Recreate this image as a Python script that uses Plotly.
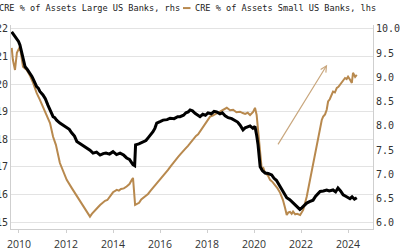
import plotly.graph_objects as go

# Large US banks (rhs) - decimal year, CRE % of assets
large_x = [2009.69, 2009.75, 2009.80, 2009.86, 2009.92, 2009.98, 2010.04, 2010.11, 2010.18, 2010.26,
           2010.36, 2010.47, 2010.55, 2010.62, 2010.75, 2010.82, 2010.89, 2011.02, 2011.12, 2011.23,
           2011.33, 2011.45, 2011.52, 2011.60, 2011.74, 2011.88, 2012.03, 2012.14, 2012.24, 2012.36,
           2012.46, 2012.58, 2012.70, 2012.88, 2013.02, 2013.15, 2013.30, 2013.45, 2013.58, 2013.70,
           2013.85, 2014.00, 2014.15, 2014.30, 2014.45, 2014.58, 2014.70, 2014.77, 2014.85, 2014.92,
           2014.96, 2015.10, 2015.28, 2015.40, 2015.50, 2015.62, 2015.70, 2015.78, 2015.86, 2016.00,
           2016.13, 2016.30, 2016.43, 2016.60, 2016.75, 2016.85, 2017.00, 2017.10, 2017.20, 2017.28,
           2017.38, 2017.49, 2017.60, 2017.70, 2017.82, 2017.93, 2018.04, 2018.18, 2018.30, 2018.41,
           2018.55, 2018.65, 2018.77, 2018.90, 2019.05, 2019.19, 2019.30, 2019.40, 2019.53, 2019.62,
           2019.70, 2019.83, 2019.95, 2020.04, 2020.11, 2020.17, 2020.26, 2020.35, 2020.47, 2020.60,
           2020.75, 2020.85, 2020.95, 2021.11, 2021.25, 2021.39, 2021.52, 2021.66, 2021.78, 2021.87,
           2021.95, 2022.03, 2022.14, 2022.24, 2022.36, 2022.51, 2022.62, 2022.72, 2022.81, 2022.95,
           2023.09, 2023.20, 2023.36, 2023.47, 2023.57, 2023.68, 2023.79, 2023.90, 2024.00, 2024.08,
           2024.17, 2024.27, 2024.37]
large_y = [9.94, 9.90, 9.86, 9.84, 9.79, 9.74, 9.67, 9.53, 9.40, 9.22,
           9.16, 9.09, 9.02, 8.95, 8.81, 8.78, 8.71, 8.64, 8.56, 8.43,
           8.33, 8.19, 8.17, 8.12, 8.06, 8.02, 7.96, 7.93, 7.86, 7.79,
           7.68, 7.64, 7.60, 7.55, 7.50, 7.44, 7.46, 7.40, 7.43, 7.44,
           7.42, 7.47, 7.41, 7.44, 7.40, 7.34, 7.31, 7.26, 7.20, 7.18,
           7.61, 7.63, 7.68, 7.70, 7.76, 7.82, 7.88, 7.95, 8.06, 8.09,
           8.12, 8.13, 8.16, 8.15, 8.19, 8.19, 8.22, 8.27, 8.29, 8.33,
           8.31, 8.26, 8.22, 8.19, 8.24, 8.22, 8.27, 8.25, 8.30, 8.29,
           8.25, 8.27, 8.21, 8.17, 8.15, 8.12, 8.08, 8.02, 7.92, 7.96,
           7.97, 8.00, 7.95, 7.99, 7.81, 7.61, 7.16, 7.08, 7.03, 7.02,
           6.99, 6.92, 6.88, 6.75, 6.64, 6.52, 6.48, 6.41, 6.36, 6.31,
           6.28, 6.31, 6.36, 6.41, 6.44, 6.47, 6.55, 6.60, 6.65, 6.66,
           6.68, 6.66, 6.68, 6.64, 6.72, 6.66, 6.58, 6.55, 6.52, 6.50,
           6.54, 6.49, 6.52]

# Small US banks (lhs)
small_x = [2009.69, 2009.74, 2009.83, 2009.91, 2010.04, 2010.17, 2010.33, 2010.47, 2010.60, 2010.75,
           2010.89, 2011.02, 2011.18, 2011.32, 2011.45, 2011.57, 2011.74, 2011.87, 2012.03, 2012.24,
           2012.43, 2012.60, 2012.77, 2012.95, 2013.02, 2013.10, 2013.19, 2013.32, 2013.45, 2013.56,
           2013.66, 2013.76, 2013.87, 2014.00, 2014.16, 2014.25, 2014.34, 2014.46, 2014.58, 2014.70,
           2014.80, 2014.85, 2014.94, 2015.03, 2015.11, 2015.20, 2015.28, 2015.38, 2015.49, 2015.60,
           2015.70, 2015.80, 2015.91, 2016.02, 2016.13, 2016.24, 2016.34, 2016.45, 2016.55, 2016.66,
           2016.77, 2016.88, 2016.98, 2017.08, 2017.19, 2017.30, 2017.40, 2017.53, 2017.62, 2017.70,
           2017.80, 2017.91, 2018.02, 2018.13, 2018.24, 2018.34, 2018.45, 2018.55, 2018.70, 2018.84,
           2018.98, 2019.11, 2019.25, 2019.40, 2019.52, 2019.62, 2019.73, 2019.83, 2019.96, 2020.04,
           2020.11, 2020.17, 2020.26, 2020.33, 2020.40, 2020.47, 2020.58, 2020.68, 2020.79, 2020.89,
           2021.00, 2021.11, 2021.23, 2021.32, 2021.39, 2021.46, 2021.53, 2021.60, 2021.66, 2021.75,
           2021.83, 2021.96, 2022.09, 2022.24, 2022.34, 2022.46, 2022.55, 2022.67, 2022.77, 2022.88,
           2022.94, 2023.02, 2023.09, 2023.15, 2023.22, 2023.28, 2023.36, 2023.44, 2023.52, 2023.59,
           2023.66, 2023.73, 2023.79, 2023.87, 2023.94, 2024.00, 2024.09, 2024.16, 2024.21, 2024.26,
           2024.30, 2024.37]
small_y = [21.31, 20.88, 20.51, 21.13, 21.35, 20.63, 20.51, 20.30, 20.04, 19.68,
           19.43, 19.18, 18.88, 18.59, 18.09, 17.80, 17.14, 16.89, 16.53, 16.24,
           15.99, 15.80, 15.55, 15.33, 15.20, 15.30, 15.37, 15.50, 15.62, 15.70,
           15.77, 15.80, 15.92, 16.08, 16.17, 16.14, 16.20, 16.22, 16.29, 16.38,
           16.53, 16.60, 15.62, 15.66, 15.70, 15.82, 15.88, 15.95, 16.02, 16.14,
           16.24, 16.33, 16.46, 16.55, 16.65, 16.78, 16.89, 17.02, 17.14, 17.25,
           17.36, 17.47, 17.55, 17.66, 17.76, 17.88, 17.98, 18.12, 18.18, 18.28,
           18.40, 18.52, 18.66, 18.82, 18.86, 18.92, 18.96, 19.00, 19.06, 19.14,
           19.05, 19.07, 18.98, 19.00, 18.95, 18.92, 18.96, 18.88, 18.99, 19.14,
           18.88, 18.34, 17.25, 16.89, 16.95, 16.78, 16.70, 16.53, 16.45, 16.35,
           16.22, 16.06, 15.80, 15.51, 15.26, 15.35, 15.37, 15.30, 15.38, 15.28,
           15.30, 15.26, 15.44, 15.92, 16.35, 16.89, 17.33, 17.74, 18.23, 18.70,
           18.82, 18.90, 19.07, 19.37, 19.45, 19.57, 19.73, 19.70, 19.86, 19.90,
           19.97, 20.05, 20.12, 20.22, 20.18, 20.27, 20.15, 20.04, 20.41, 20.30,
           20.26, 20.33]

year_ticks = [2010, 2012, 2014, 2016, 2018, 2020, 2022, 2024]
year_labels = ["2010", "2012", "2014", "2016", "2018", "2020", "2022", "2024"]
left_ticks = [15, 16, 17, 18, 19, 20, 21, 22]
left_labels = ["15", "16", "17", "18", "19", "20", "21", "22"]
right_ticks = [6.0, 6.5, 7.0, 7.5, 8.0, 8.5, 9.0, 9.5, 10.0]
right_labels = ["6.0", "6.5", "7.0", "7.5", "8.0", "8.5", "9.0", "9.5", "10.0"]

legend_large = "CRE % of Assets Large US Banks, rhs"
legend_small = "CRE % of Assets Small US Banks, lhs"

GOLD = "#b8894e"
ARROW = "#c9a77e"

fig = go.Figure()
fig.add_trace(go.Scatter(x=small_x, y=small_y, mode="lines", name=legend_small,
                         line=dict(color=GOLD, width=2), yaxis="y", showlegend=False))
fig.add_trace(go.Scatter(x=large_x, y=large_y, mode="lines", name=legend_large,
                         line=dict(color="#000000", width=3), yaxis="y2", showlegend=False))

mono = "DejaVu Sans Mono"
fig.update_layout(
    width=400, height=250,
    margin=dict(l=11, r=27, t=25, b=21, pad=0),
    paper_bgcolor="white", plot_bgcolor="white",
    template="none",
    showlegend=False,
    xaxis=dict(range=[2009.66, 2025.06], tickvals=year_ticks, ticktext=year_labels,
               showgrid=False, zeroline=False, showline=True, linecolor="#cfcfcf", linewidth=1,
               ticks="outside", ticklen=3, tickcolor="#cfcfcf", ticklabelstandoff=2,
               tickfont=dict(family="Open Sans", size=10.5, color="#333333"), automargin=False),
    yaxis=dict(range=[14.75, 22.14], tickvals=left_ticks, ticktext=left_labels,
               showgrid=True, gridcolor="#e3e3e3", gridwidth=1, zeroline=False,
               showline=True, linecolor="#cfcfcf", linewidth=1, ticks="",
               tickfont=dict(family=mono, size=10, color="#333333"), automargin=False),
    yaxis2=dict(range=[5.876, 10.08], tickvals=right_ticks, ticktext=right_labels,
                overlaying="y", side="right", showgrid=False, zeroline=False,
                showline=True, linecolor="#cfcfcf", linewidth=1, ticks="",
                tickfont=dict(family=mono, size=10, color="#333333"), automargin=False),
)

# legend imitation
fig.add_annotation(x=(182 - 11) / 362, y=1.083, xref="paper", yref="paper",
                   text=legend_large, showarrow=False, xanchor="right", yanchor="middle",
                   font=dict(family=mono, size=8.6, color="#222222"))
fig.add_annotation(x=(193 - 11) / 362, y=1.083, xref="paper", yref="paper",
                   text=legend_small, showarrow=False, xanchor="left", yanchor="middle",
                   font=dict(family=mono, size=8.6, color="#222222"))
fig.add_shape(type="line", xref="paper", yref="paper",
              x0=(183 - 11) / 362, x1=(190.5 - 11) / 362, y0=1.083, y1=1.083,
              line=dict(color=GOLD, width=2))

# trend arrow
fig.add_annotation(x=2023.11, y=20.70, ax=2020.98, ay=17.76, xref="x", yref="y",
                   axref="x", ayref="y", text="", showarrow=True, arrowhead=5,
                   arrowsize=1, arrowwidth=1.2, arrowcolor=ARROW)

fig.write_html("out.html")
